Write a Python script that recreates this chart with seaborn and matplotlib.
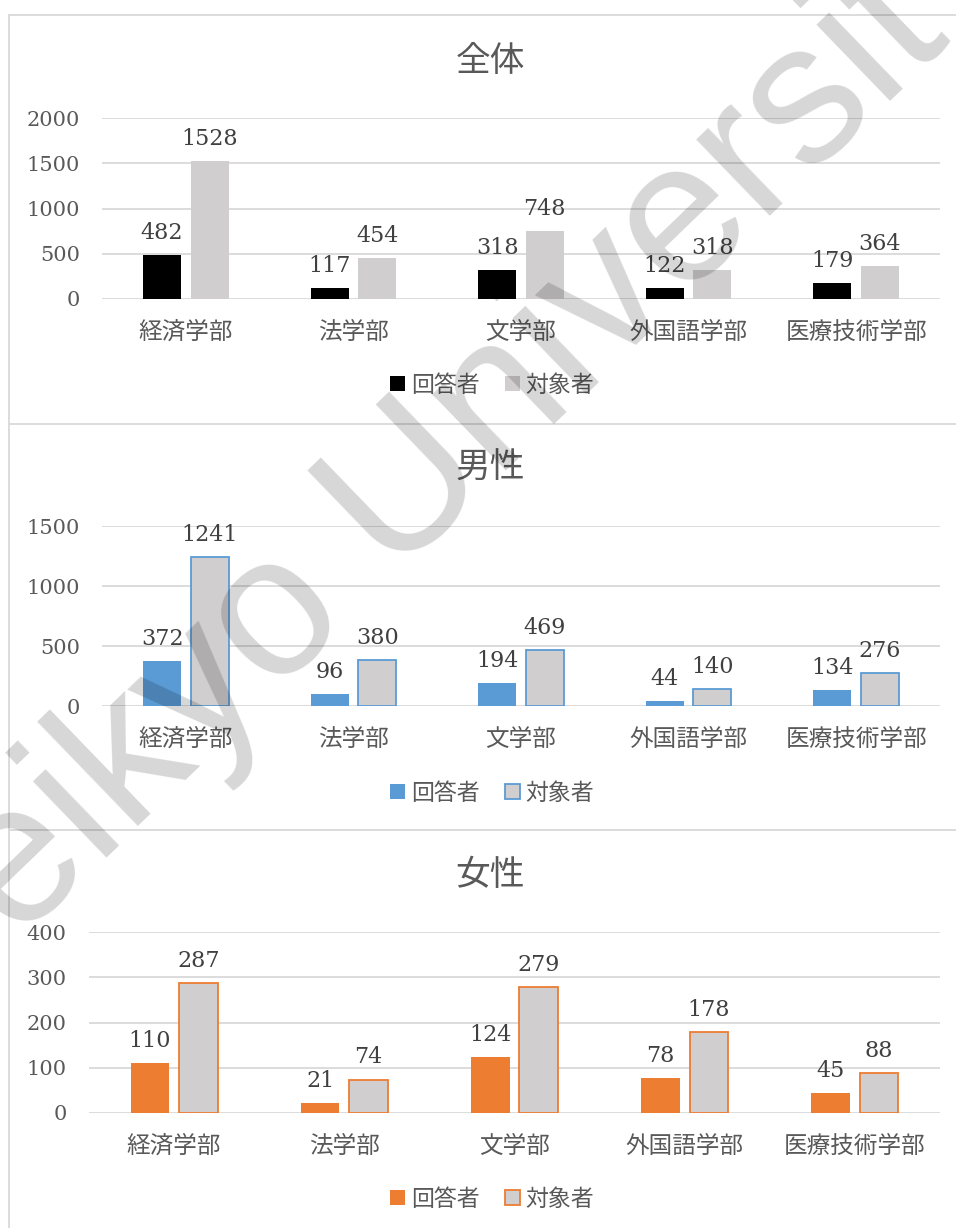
import matplotlib
matplotlib.use('Agg')
import matplotlib.pyplot as plt
from matplotlib.patches import Patch
from matplotlib.lines import Line2D
import seaborn as sns
import pandas as pd

categories = ['経済学部', '法学部', '文学部', '外国語学部', '医療技術学部']
series_names = ['回答者', '対象者']

all_resp = [482, 117, 318, 122, 179]
all_target = [1528, 454, 748, 318, 364]
male_resp = [372, 96, 194, 44, 134]
male_target = [1241, 380, 469, 140, 276]
female_resp = [110, 21, 124, 78, 45]
female_target = [287, 74, 279, 178, 88]

titles = ['全体', '男性', '女性']
y_ticks = [[0, 500, 1000, 1500, 2000], [0, 500, 1000, 1500], [0, 100, 200, 300, 400]]

sns.set_theme(style='white')
plt.rcParams['font.family'] = ['Noto Sans CJK JP', 'DejaVu Sans']
NUM_FONT = 'DejaVu Serif'
TXT = '#595959'
GRID = '#d9d9d9'
TARGET_GRAY = '#d0cece'

W, H = 956, 1228
fig = plt.figure(figsize=(W / 100, H / 100), dpi=100)


def fx(px):
    return px / W


def fy(py):
    return 1 - py / H


panels = [
    dict(resp=all_resp, target=all_target, color='#000000', edge=False,
         left=102, top=118, bottom=299, title_y=62, legend_y=385, box_top=15),
    dict(resp=male_resp, target=male_target, color='#5b9bd5', edge=True,
         left=102, top=526, bottom=706, title_y=468, legend_y=793, box_top=423.5),
    dict(resp=female_resp, target=female_target, color='#ed7d31', edge=True,
         left=89, top=932, bottom=1113, title_y=875, legend_y=1199, box_top=829.5),
]

for i, p in enumerate(panels):
    df = pd.DataFrame({
        '学部': categories * 2,
        '人数': p['resp'] + p['target'],
        '区分': [series_names[0]] * 5 + [series_names[1]] * 5,
    })
    ax = fig.add_axes([fx(p['left']), fy(p['bottom']),
                       fx(940 - p['left']), (p['bottom'] - p['top']) / H])
    sns.barplot(data=df, x='学部', y='人数', hue='区分',
                palette=[p['color'], TARGET_GRAY], saturation=1,
                width=0.568, gap=0.2, legend=False, ax=ax, zorder=2)

    for bar in ax.containers[0]:
        bar.set_linewidth(0)
    for bar in ax.containers[1]:
        if p['edge']:
            bar.set_edgecolor(p['color'])
            bar.set_linewidth(1.3)
        else:
            bar.set_linewidth(0)

    for cont in ax.containers:
        ax.bar_label(cont, padding=8, fontsize=16, color='#404040', fontfamily=NUM_FONT)

    ticks = y_ticks[i]
    ax.set_ylim(0, ticks[-1])
    ax.set_yticks(ticks)
    ax.set_xlim(-0.5, 4.5)
    ax.set_xlabel('')
    ax.set_ylabel('')
    ax.yaxis.grid(True, color=GRID, lw=1.3)
    ax.set_axisbelow(True)
    for s in ax.spines.values():
        s.set_visible(False)
    ax.tick_params(axis='y', length=0, pad=16, labelsize=15, colors=TXT,
                   labelfontfamily=NUM_FONT)
    ax.tick_params(axis='x', length=0, pad=16, labelsize=17, colors=TXT)

    fig.text(fx(490), fy(p['title_y']), titles[i], ha='center', va='center',
             fontsize=25, color=TXT)

    handles = [Patch(facecolor=p['color'], edgecolor='none'),
               Patch(facecolor=TARGET_GRAY,
                     edgecolor=p['color'] if p['edge'] else 'none',
                     linewidth=1.3 if p['edge'] else 0)]
    ax.legend(handles, series_names, loc='center',
              bbox_to_anchor=(fx(492), fy(p['legend_y'])),
              bbox_transform=fig.transFigure, ncol=2, frameon=False,
              handlelength=0.65, handleheight=0.65, handletextpad=0.25,
              columnspacing=1.1, prop={'size': 16.5}, labelcolor=TXT)

    # panel frame
    fig.add_artist(Line2D([fx(8.5), 1], [fy(p['box_top'])] * 2,
                          transform=fig.transFigure, color=GRID, lw=1.3))

fig.add_artist(Line2D([fx(8.5), fx(8.5)], [fy(15), 0],
                      transform=fig.transFigure, color=GRID, lw=1.3))

# watermark (runs off the page, as in the source)
fig.text(fx(449), fy(454), 'Teikyo University', ha='center', va='center',
         rotation=44, fontsize=144, color='black', alpha=0.16,
         family=['Liberation Sans', 'DejaVu Sans'], zorder=100)

fig.savefig('out.png', dpi=100)
